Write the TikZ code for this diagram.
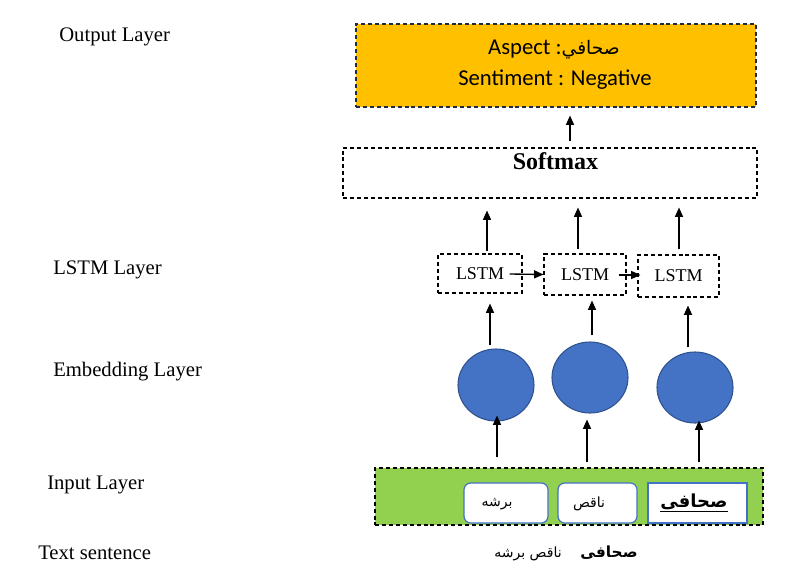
\documentclass[tikz,border=0pt]{standalone}
\usepackage{fontspec}
\setmainfont{Liberation Serif}
\newfontfamily\calib{Carlito}
\newfontfamily\arabicfont[Script=Arabic]{DejaVu Sans}
\TeXXeTstate=1
\usetikzlibrary{arrows.meta,shapes.geometric,calc}
\definecolor{orangefill}{HTML}{FFC000}
\definecolor{greenfill}{HTML}{92D050}
\definecolor{circfill}{HTML}{4472C4}
\definecolor{circline}{HTML}{2F528F}
\definecolor{wordline}{HTML}{4472C4}
\definecolor{navydash}{HTML}{1F2A44}
\begin{document}
\begin{tikzpicture}[x=0.75pt,y=-0.75pt,
  dbox/.style={draw, dashed, dash pattern=on 3pt off 2.2pt, line width=0.8pt, inner sep=0pt},
  arr/.style={-{Triangle[length=7pt,width=6pt]}, line width=1pt},
  layerlbl/.style={anchor=mid west, inner sep=0pt, font=\fontsize{15.5}{18}\selectfont},
  lstmbox/.style={dbox, font=\fontsize{13.5}{16}\selectfont},
  embcirc/.style={ellipse, draw=circline, fill=circfill, line width=0.8pt, inner sep=0pt},
  wordbox/.style={draw=wordline, fill=white, line width=0.9pt, inner sep=0pt, minimum height=30pt},
  wordtxt/.style={font=\arabicfont\fontsize{10.5}{12}\selectfont, inner sep=0pt}
]
\useasboundingbox (0,0) rectangle (800,578);

% left labels
\node[layerlbl] (lblout) at (59,38) {Output Layer};
\node[layerlbl] (lbllstm) at (53,271) {LSTM Layer};
\node[layerlbl] (lblemb) at (53,373) {Embedding Layer};
\node[layerlbl] (lblin) at (47,486) {Input Layer};
\node[layerlbl] (lbltxt) at (38,556) {Text sentence};

% output layer
\node[dbox, draw=navydash, fill=orangefill, minimum width=300pt, minimum height=62.25pt] (out) at (556,65.5) {};
\node[font=\calib\fontsize{17}{20}\selectfont, inner sep=0pt] (asp) at (554,50) {Aspect :{\arabicfont\fontsize{14}{16}\selectfont\beginR صحافي\endR}};
\node[font=\calib\fontsize{17}{20}\selectfont, inner sep=0pt] (sent) at (555,80) {Sentiment : Negative};

% softmax
\node[dbox, minimum width=310.5pt, minimum height=37.5pt] (soft) at (550,173) {};
\node[font=\bfseries\fontsize{18}{20}\selectfont, inner sep=0pt] (softtxt) at (555.5,161) {Softmax};

% LSTM
\node[lstmbox, minimum width=63pt, minimum height=29.25pt] (l1) at (480,273.5) {LSTM};
\node[lstmbox, minimum width=61.5pt, minimum height=30.75pt] (l2) at (585,274.5) {LSTM};
\node[lstmbox, minimum width=60.75pt, minimum height=31.5pt] (l3) at (678.5,276) {LSTM};

% embedding circles
\node[embcirc, minimum width=57pt, minimum height=54pt] (c1) at (496,385) {};
\node[embcirc, minimum width=57pt, minimum height=53.25pt] (c2) at (590,377.5) {};
\node[embcirc, minimum width=57pt, minimum height=53.25pt] (c3) at (695,387.5) {};

% input layer
\node[dbox, fill=greenfill, minimum width=291pt, minimum height=42.75pt] (inp) at (569,496.5) {};
\node[wordbox, rounded corners=5pt, minimum width=63pt] (w1) at (506,503) {};
\node[wordbox, rounded corners=5pt, minimum width=59.25pt] (w2) at (597.5,503) {};
\node[wordbox, minimum width=74.25pt] (w3) at (697.5,503) {};
\node[wordtxt] (t1) at (497,504) {\beginR برشه\endR};
\node[wordtxt] (t2) at (589,504) {\beginR ناقص\endR};
\node[wordtxt, font=\arabicfont\bfseries\fontsize{13.5}{15}\selectfont] (t3) at (694,503) {\underline{\beginR صحافى\endR}};

% text sentence
\node[font=\arabicfont\fontsize{10.5}{12}\selectfont, inner sep=0pt] (sentence) at (566,553) {\beginR{\bfseries\fontsize{11.5}{14}\selectfont صحافى}\hspace{14pt}ناقص برشه\endR};

% arrows
\draw[arr] ($(soft.north)+(20,-6)$) -- ($(out.south)+(14,8)$);
\draw[arr] ($(l1.north)+(7,-2)$) -- ($(soft.south)+(-63,12)$);
\draw[arr] ($(l2.north)+(-7,-4)$) -- ($(soft.south)+(28,9)$);
\draw[arr] ($(l3.north)+(0.5,-5)$) -- ($(soft.south)+(129,9)$);
\draw[arr] ($(l1.east)+(-13,0.5)$) -- (l2.west);
\draw[arr] ($(l2.east)+(-8,0.5)$) -- ($(l3.west)+(3,-1)$);
\draw[arr] ($(c1.north)+(-6,-3)$) -- ($(l1.south)+(10,10)$);
\draw[arr] ($(c2.north)+(2,-6)$) -- ($(l2.south)+(7,5)$);
\draw[arr] ($(c3.north)+(-7,-4)$) -- ($(l3.south)+(9.5,8)$);
\draw[arr] ($(inp.north)+(-72,-10)$) -- ($(c1.south)+(1,-6)$);
\draw[arr] ($(inp.north)+(18,-5)$) -- ($(c2.south)+(-3,6)$);
\draw[arr] ($(inp.north)+(130,-5)$) -- ($(c3.south)+(4,-3)$);
\end{tikzpicture}
\end{document}
